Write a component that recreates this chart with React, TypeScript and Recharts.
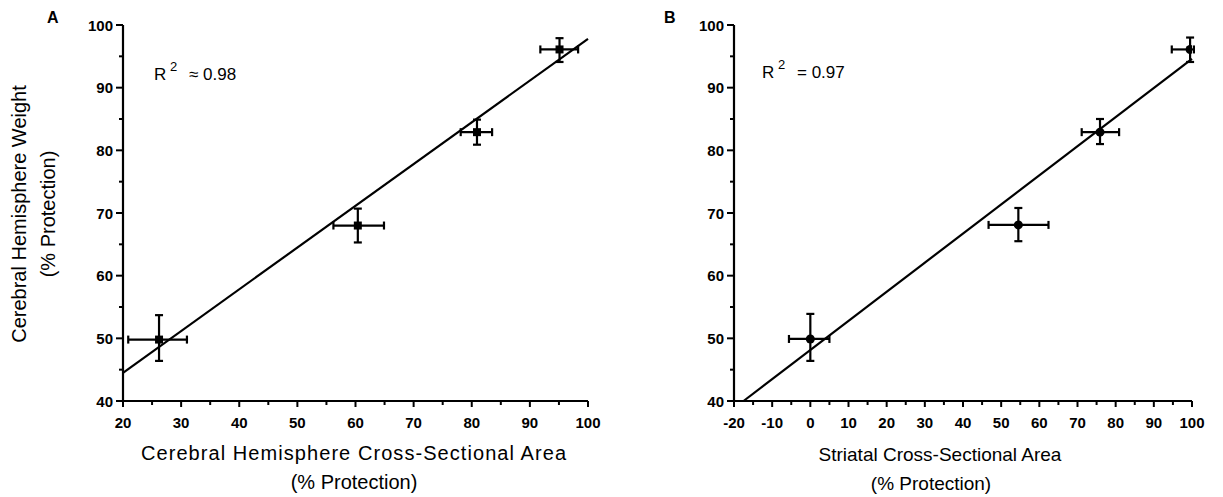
import React from 'react'
import { ScatterChart, Scatter, XAxis, YAxis, ErrorBar, ReferenceLine } from 'recharts'

// Panel A: cerebral hemisphere area vs weight
const xA = [26.2, 60.4, 80.9, 95.1]
const yA = [49.8, 68.0, 82.9, 96.1]
const xErrA = [[5.3, 4.8], [4.2, 4.5], [2.8, 2.6], [3.3, 3.2]]
const yErrA = [[3.4, 3.9], [2.7, 2.7], [2.0, 2.0], [2.0, 1.8]]
const fitA = [{ x: 20, y: 44.5 }, { x: 100, y: 97.8 }]

// Panel B: striatal area vs hemisphere weight
const xB = [0, 54.5, 75.9, 99.5]
const yB = [49.9, 68.1, 82.9, 96.1]
const xErrB = [[5.6, 5.0], [7.8, 7.9], [4.8, 5.0], [4.8, 1.0]]
const yErrB = [[3.5, 4.0], [2.6, 2.7], [1.9, 2.1], [2.0, 1.9]]
const fitB = [{ x: -17.5, y: 40 }, { x: 100, y: 94.6 }]

const yTicks = [40, 45, 50, 55, 60, 65, 70, 75, 80, 85, 90, 95, 100]
const xTicksA = [20, 25, 30, 35, 40, 45, 50, 55, 60, 65, 70, 75, 80, 85, 90, 95, 100]
const xTicksB = [-20, -15, -10, -5, 0, 5, 10, 15, 20, 25, 30, 35, 40, 45, 50, 55, 60, 65, 70, 75, 80, 85, 90, 95, 100]

const FONT = '"Liberation Sans", Arial, Helvetica, sans-serif'
const INK = '#000'

const toPoints = (xs: number[], ys: number[], xe: number[][], ye: number[][]) =>
  xs.map((x, i) => ({ x, y: ys[i], ex: xe[i], ey: ye[i] }))

function XTick({ x, y, payload }: any) {
  const major = payload.value % 10 === 0
  return (
    <g>
      <line x1={x} x2={x} y1={y} y2={y + (major ? 6 : 4)} stroke={INK} strokeWidth={2} />
      {major && (
        <text x={x} y={y + 27} textAnchor="middle" fontSize={15} fontWeight="bold" fontFamily={FONT} fill={INK}>
          {payload.value}
        </text>
      )}
    </g>
  )
}

function YTick({ x, y, payload }: any) {
  const major = payload.value % 10 === 0
  return (
    <g>
      <line x1={x - (major ? 7 : 4)} x2={x} y1={y} y2={y} stroke={INK} strokeWidth={2} />
      {major && (
        <text x={x - 10} y={y + 5.5} textAnchor="end" fontSize={15} fontWeight="bold" fontFamily={FONT} fill={INK}>
          {payload.value}
        </text>
      )}
    </g>
  )
}

function Panel({ data, fit, xDomain, xTicks, shape, size, margin, width }: any) {
  return (
    <ScatterChart width={width} height={497} margin={margin}>
      <XAxis
        type="number"
        dataKey="x"
        domain={xDomain}
        ticks={xTicks}
        interval={0}
        allowDataOverflow
        height={30}
        tickSize={0}
        tickMargin={0}
        tick={<XTick />}
        axisLine={{ stroke: INK, strokeWidth: 2.2 }}
      />
      <YAxis
        type="number"
        dataKey="y"
        domain={[40, 100]}
        ticks={yTicks}
        interval={0}
        allowDataOverflow
        width={60}
        tickSize={0}
        tickMargin={0}
        tick={<YTick />}
        axisLine={{ stroke: INK, strokeWidth: 2.2 }}
      />
      <ReferenceLine segment={fit} stroke={INK} strokeWidth={2.2} />
      <Scatter data={data} fill={INK} shape={shape} isAnimationActive={false}>
        <ErrorBar dataKey="ex" direction="x" width={4} stroke={INK} strokeWidth={2.2} isAnimationActive={false} />
        <ErrorBar dataKey="ey" direction="y" width={4} stroke={INK} strokeWidth={2.2} isAnimationActive={false} />
      </Scatter>
    </ScatterChart>
  )
}

const txt = { fontFamily: FONT, fill: INK }

export default function App() {
  const dataA = toPoints(xA, yA, xErrA, yErrA)
  const dataB = toPoints(xB, yB, xErrB, yErrB)
  return (
    <div style={{ position: 'absolute', left: 0, top: 0, width: 1223, height: 497, background: '#fff' }}>
      <div style={{ position: 'absolute', left: 0, top: 0 }}>
        <Panel
          data={dataA}
          fit={fitA}
          xDomain={[20, 100]}
          xTicks={xTicksA}
          shape="square"
          width={610}
          margin={{ top: 25, right: 22, bottom: 66, left: 63 }}
        />
      </div>
      <div style={{ position: 'absolute', left: 610, top: 0 }}>
        <Panel
          data={dataB}
          fit={fitB}
          xDomain={[-20, 100]}
          xTicks={xTicksB}
          shape="circle"
          width={613}
          margin={{ top: 25, right: 31, bottom: 66, left: 64 }}
        />
      </div>
      <svg width={1223} height={497} style={{ position: 'absolute', left: 0, top: 0, pointerEvents: 'none' }}>
        {/* panel letters */}
        <text x={47} y={23} fontSize={16} fontWeight="bold" {...txt}>A</text>
        <text x={664} y={23} fontSize={16} fontWeight="bold" {...txt}>B</text>

        {/* R squared */}
        <text x={154} y={80} fontSize={17} {...txt}>R</text>
        <text x={170} y={71} fontSize={13} {...txt}>2</text>
        <text x={189} y={80} fontSize={17} {...txt}>≈ 0.98</text>
        <text x={762} y={78} fontSize={17} {...txt}>R</text>
        <text x={778} y={69} fontSize={13} {...txt}>2</text>
        <text x={797} y={78} fontSize={17} {...txt}>= 0.97</text>

        {/* y-axis title */}
        <g transform="translate(26,214) rotate(-90)">
          <text x={0} y={0} textAnchor="middle" fontSize={20} {...txt}>Cerebral  Hemisphere  Weight</text>
          <text x={0} y={29} textAnchor="middle" fontSize={20} {...txt}>(% Protection)</text>
        </g>

        {/* x-axis titles */}
        <text x={141} y={460} fontSize={20} textLength={425} lengthAdjust="spacing" {...txt}>
          Cerebral Hemisphere Cross-Sectional Area
        </text>
        <text x={354} y={489} textAnchor="middle" fontSize={20} {...txt}>(% Protection)</text>
        <text x={940} y={461} textAnchor="middle" fontSize={19} {...txt}>Striatal Cross-Sectional Area</text>
        <text x={931} y={490} textAnchor="middle" fontSize={19} {...txt}>(% Protection)</text>
      </svg>
    </div>
  )
}
